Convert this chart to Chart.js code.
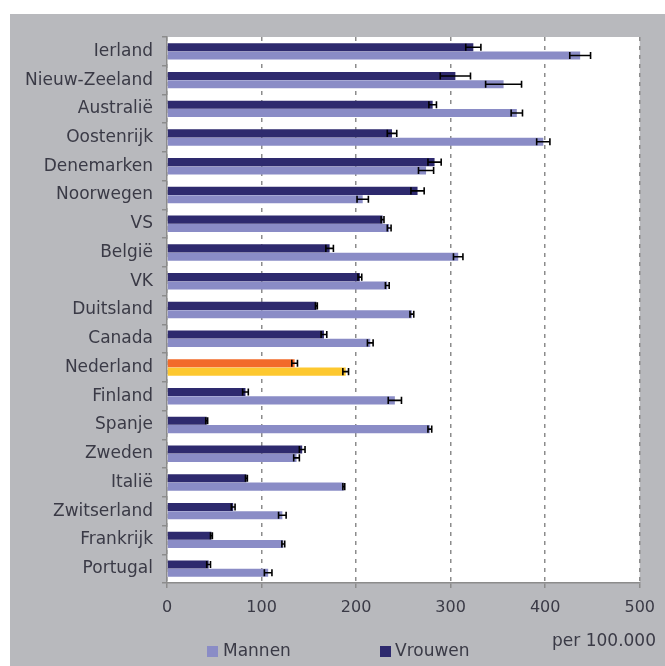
<!DOCTYPE html>
<html>
<head>
<meta charset="utf-8">
<script src="https://cdn.jsdelivr.net/npm/chart.js@4/dist/chart.umd.min.js"></script>
<style>
  html, body { margin: 0; padding: 0; background: #fff; }
  #wrap { width: 665px; height: 666px; }
</style>
</head>
<body>
<div id="wrap"><canvas id="sterfte"></canvas></div>
<script>
// landen, van boven naar beneden
var categories = ['Ierland', 'Nieuw-Zeeland', 'Australië', 'Oostenrijk', 'Denemarken', 'Noorwegen', 'VS',
  'België', 'VK', 'Duitsland', 'Canada', 'Nederland', 'Finland', 'Spanje', 'Zweden', 'Italië',
  'Zwitserland', 'Frankrijk', 'Portugal'];

// per 100.000
var vrouwen    = [324, 305, 281, 238, 283, 265, 228, 172, 204, 158, 166, 135, 83, 42, 143, 84, 70, 47, 44];
var vrouwenErr = [8, 16, 4, 5, 7, 7, 1.5, 4, 2, 1, 3, 3, 3, 1, 3, 1, 2, 1, 2];
var mannen     = [437, 356, 370, 398, 274, 207, 235, 308, 233, 259, 215, 189, 241, 278, 137, 187, 122, 123, 107];
var mannenErr  = [11, 19, 6, 7, 8, 6, 2, 5, 2, 2, 3, 3, 7, 2, 3, 1, 4, 1.5, 4];

var xTicks = [0, 100, 200, 300, 400, 500];

var navy = '#2e2a6e', lila = '#8a8cc6';
var oranje = '#f26b2a', geel = '#fdc82f';
var tekst = '#3a3a46';

var vrouwenKleur = categories.map(function (c) { return c === 'Nederland' ? oranje : navy; });
var mannenKleur = categories.map(function (c) { return c === 'Nederland' ? geel : lila; });

// grijze achtergrond en wit plotvlak
var achtergrond = {
  id: 'achtergrond',
  beforeDraw: function (chart) {
    var ctx = chart.ctx, a = chart.chartArea;
    ctx.save();
    ctx.fillStyle = '#ffffff';
    ctx.fillRect(0, 0, chart.width, chart.height);
    ctx.fillStyle = '#b8b9bd';
    ctx.fillRect(10, 14, chart.width - 10, chart.height - 14);
    ctx.fillStyle = '#ffffff';
    ctx.fillRect(a.left, a.top, a.right - a.left, a.bottom - a.top);
    ctx.restore();
  }
};

// foutmarges
var foutbalken = {
  id: 'foutbalken',
  afterDatasetsDraw: function (chart) {
    var ctx = chart.ctx, x = chart.scales.x;
    ctx.save();
    ctx.strokeStyle = '#000';
    ctx.lineWidth = 1.6;
    chart.data.datasets.forEach(function (ds, i) {
      var meta = chart.getDatasetMeta(i);
      meta.data.forEach(function (bar, j) {
        var v = ds.data[j], e = ds.err[j];
        var x1 = x.getPixelForValue(v - e), x2 = x.getPixelForValue(v + e);
        var y = bar.y, h = bar.height / 2 - 0.5;
        ctx.beginPath();
        ctx.moveTo(x1, y); ctx.lineTo(x2, y);
        ctx.moveTo(x1, y - h); ctx.lineTo(x1, y + h);
        ctx.moveTo(x2, y - h); ctx.lineTo(x2, y + h);
        ctx.stroke();
      });
    });
    ctx.restore();
  }
};

// legenda en eenheid onderaan
var legenda = {
  id: 'legenda',
  afterDraw: function (chart) {
    var ctx = chart.ctx;
    ctx.save();
    ctx.font = '17px "DejaVu Sans"';
    ctx.textBaseline = 'middle';
    ctx.fillStyle = lila;
    ctx.fillRect(207, 646, 11, 11);
    ctx.fillStyle = navy;
    ctx.fillRect(380, 646, 11, 11);
    ctx.fillStyle = tekst;
    ctx.fillText(chart.data.datasets[1].label, 223, 652);
    ctx.fillText(chart.data.datasets[0].label, 395, 652);
    ctx.textAlign = 'right';
    ctx.fillText('per 100.000', 656, 642);
    ctx.restore();
  }
};

new Chart(document.getElementById('sterfte'), {
  type: 'bar',
  data: {
    labels: categories,
    datasets: [
      { label: 'Vrouwen', data: vrouwen, err: vrouwenErr, backgroundColor: vrouwenKleur },
      { label: 'Mannen', data: mannen, err: mannenErr, backgroundColor: mannenKleur }
    ]
  },
  options: {
    indexAxis: 'y',
    responsive: true,
    maintainAspectRatio: false,
    animation: false,
    categoryPercentage: 0.58,
    barPercentage: 0.97,
    layout: { padding: { top: 37, right: 23, bottom: 53, left: 0 } },
    plugins: {
      legend: { display: false },
      tooltip: { enabled: false }
    },
    scales: {
      x: {
        min: 0,
        max: 500,
        afterBuildTicks: function (scale) {
          scale.ticks = xTicks.map(function (v) { return { value: v }; });
        },
        afterFit: function (scale) { scale.height = 30; },
        grid: {
          color: '#8c8c8c',
          lineWidth: 1.5,
          drawTicks: true,
          tickLength: 5,
          tickColor: '#8c8c8c'
        },
        border: { display: true, color: '#8c8c8c', width: 1.5, dash: [4, 5] },
        ticks: {
          color: tekst,
          padding: 10,
          font: { family: '"DejaVu Sans"', size: 16 }
        }
      },
      y: {
        afterFit: function (scale) { scale.width = 167; },
        grid: {
          drawOnChartArea: false,
          drawTicks: true,
          tickLength: 5,
          tickColor: '#8c8c8c',
          lineWidth: 1.5
        },
        border: { display: true, color: '#8c8c8c', width: 1.5 },
        ticks: {
          color: tekst,
          padding: 9,
          font: { family: '"DejaVu Sans"', size: 17 }
        }
      }
    }
  },
  plugins: [achtergrond, foutbalken, legenda]
});
</script>
</body>
</html>
